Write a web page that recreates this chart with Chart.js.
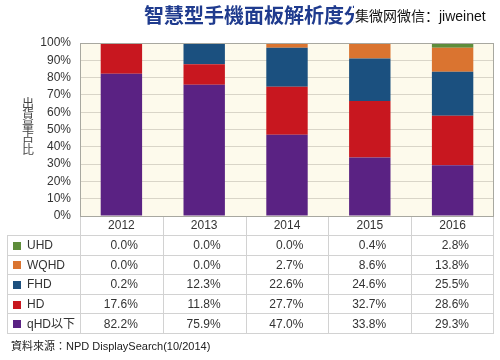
<!DOCTYPE html>
<html>
<head>
<meta charset="utf-8">
<script src="https://cdn.jsdelivr.net/npm/chart.js@4/dist/chart.umd.min.js"></script>
<style>
html,body{margin:0;padding:0;background:#fff;}
#wrap{width:500px;height:360px;position:relative;}
</style>
</head>
<body>
<div id="wrap"><canvas id="c" width="500" height="360"></canvas></div>
<script>
const titleText = '智慧型手機面板解析度分';
const watermark = '集微网微信：jiweinet';
const yAxisTitle = '出貨量占比';
const sourceText = '資料來源：NPD DisplaySearch(10/2014)';
const years = ['2012', '2013', '2014', '2015', '2016'];
const qhdValues = [82.2, 75.9, 47.0, 33.8, 29.3];
const hdValues = [17.6, 11.8, 27.7, 32.7, 28.6];
const fhdValues = [0.2, 12.3, 22.6, 24.6, 25.5];
const wqhdValues = [0.0, 0.0, 2.7, 8.6, 13.8];
const uhdValues = [0.0, 0.0, 0.0, 0.4, 2.8];
const seriesNames = ['qHD以下', 'HD', 'FHD', 'WQHD', 'UHD'];
const seriesColors = ['#5A2283', '#C8171F', '#1B507F', '#DA7430', '#5E8D3B'];
const seriesValues = [qhdValues, hdValues, fhdValues, wqhdValues, uhdValues];

const FONT = '"Liberation Sans", Arial, "Noto Sans CJK TC", sans-serif';
Chart.defaults.font.family = FONT;
Chart.defaults.color = '#333';

const datasets = seriesNames.map((n, i) => ({
  label: n,
  data: seriesValues[i],
  backgroundColor: seriesColors[i],
  borderWidth: 0,
  barPercentage: 0.5,
  categoryPercentage: 1.0
}));

const decor = {
  id: 'decor',
  beforeDraw(chart) {
    const ctx = chart.ctx, a = chart.chartArea;
    ctx.save();
    ctx.fillStyle = '#FDFAEC';
    ctx.fillRect(a.left, a.top, a.right - a.left, a.bottom - a.top);
    ctx.restore();
  },
  afterDraw(chart) {
    const ctx = chart.ctx, a = chart.chartArea, xs = chart.scales.x;
    const colW = (a.right - a.left) / years.length;
    const tableLeft = 7;
    const headerBottom = a.bottom + 19;
    const rowH = 19.6;
    const nRows = seriesNames.length;
    const tableBottom = headerBottom + rowH * nRows;
    ctx.save();
    // plot border
    ctx.strokeStyle = '#A8A8A0';
    ctx.lineWidth = 1;
    ctx.strokeRect(Math.round(a.left) + 0.5, Math.round(a.top) + 0.5, Math.round(a.right - a.left) - 1, Math.round(a.bottom - a.top));
    // table lines
    ctx.strokeStyle = '#D2D2D2';
    ctx.beginPath();
    for (let i = 0; i <= years.length; i++) {
      const x = Math.round(a.left + i * colW) + 0.5 - (i === years.length ? 1 : 0);
      ctx.moveTo(x, a.bottom + 1);
      ctx.lineTo(x, tableBottom);
    }
    ctx.moveTo(tableLeft + 0.5, headerBottom);
    ctx.lineTo(tableLeft + 0.5, tableBottom);
    for (let r = 0; r <= nRows; r++) {
      const y = Math.round(headerBottom + r * rowH) + 0.5;
      ctx.moveTo(tableLeft, y);
      ctx.lineTo(a.right, y);
    }
    ctx.stroke();
    // years
    ctx.fillStyle = '#333';
    ctx.font = '12px ' + FONT;
    ctx.textAlign = 'center';
    ctx.textBaseline = 'middle';
    years.forEach((y, i) => {
      ctx.fillText(y, xs.getPixelForValue(i), a.bottom + 10);
    });
    // rows (top: UHD ... bottom: qHD)
    for (let r = 0; r < nRows; r++) {
      const si = nRows - 1 - r;
      const cy = headerBottom + r * rowH + rowH / 2 + 1;
      ctx.fillStyle = seriesColors[si];
      ctx.fillRect(13, Math.round(cy - 4), 8, 8);
      ctx.fillStyle = '#333';
      ctx.textAlign = 'left';
      ctx.font = '12px ' + FONT;
      ctx.fillText(seriesNames[si], 27, cy);
      ctx.textAlign = 'right';
      seriesValues[si].forEach((v, i) => {
        const right = xs.getPixelForValue(i) + colW / 2 - 25;
        ctx.fillText(v.toFixed(1) + '%', right, cy);
      });
    }
    // y axis title (stacked upright characters)
    ctx.fillStyle = '#444';
    ctx.font = '12px "Noto Sans CJK TC", sans-serif';
    ctx.textAlign = 'center';
    const chars = Array.from(yAxisTitle);
    chars.forEach((ch, i) => {
      ctx.fillText(ch, 28, 103 + i * 11.5);
    });
    // title
    ctx.fillStyle = '#1F3B8E';
    ctx.font = 'bold 20px "Noto Sans CJK TC", sans-serif';
    ctx.textAlign = 'left';
    ctx.fillText(titleText, 144, 15);
    // watermark
    ctx.fillStyle = '#fff';
    ctx.fillRect(354, 0, 146, 30);
    ctx.fillStyle = '#111';
    ctx.font = '14px "Liberation Sans", Arial, "Noto Sans CJK SC", sans-serif';
    ctx.fillText(watermark, 355, 17);
    // source
    ctx.fillStyle = '#222';
    ctx.font = '11px "Liberation Sans", Arial, "Noto Sans CJK TC", sans-serif';
    ctx.fillText(sourceText, 11, 347);
    ctx.restore();
  }
};

new Chart(document.getElementById('c'), {
  type: 'bar',
  data: { labels: years, datasets },
  options: {
    responsive: false,
    animation: false,
    devicePixelRatio: 1,
    layout: { padding: { left: 0, top: 43, right: 6, bottom: 144 } },
    plugins: { legend: { display: false }, tooltip: { enabled: false }, title: { display: false } },
    scales: {
      x: { stacked: true, display: false },
      y: {
        stacked: true,
        min: 0,
        max: 100,
        afterFit(scale) { scale.width = 80; },
        ticks: {
          stepSize: 10,
          autoSkip: false,
          padding: 9,
          color: '#333',
          font: { size: 12 },
          callback: v => v + '%'
        },
        grid: { color: '#D9D5C8', drawTicks: false },
        border: { display: false }
      }
    }
  },
  plugins: [decor]
});
</script>
</body>
</html>
